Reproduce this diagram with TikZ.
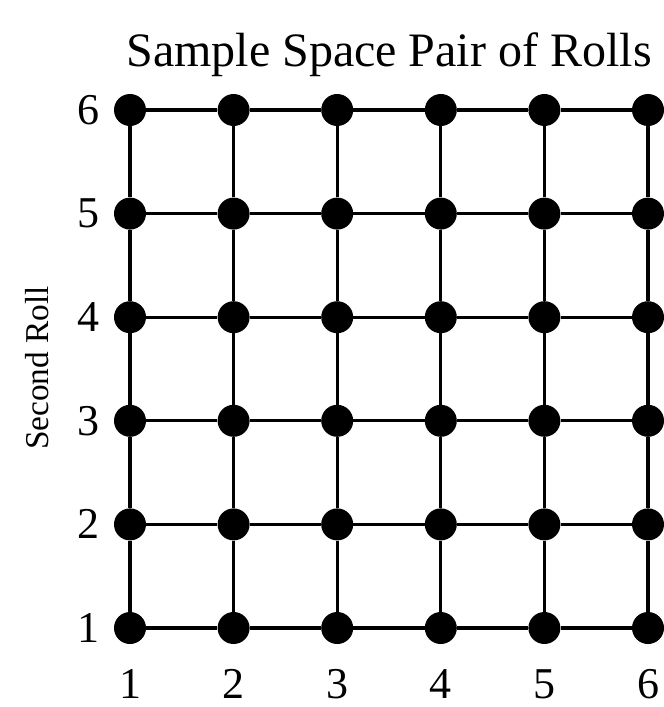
\documentclass[tikz,border=0pt]{standalone}
\usepackage{fontspec}
\setmainfont{Liberation Serif}
\begin{document}
\begin{tikzpicture}[
        x=0.75pt, y=-0.75pt,
        every node/.style={font=\fontsize{33}{38}\selectfont},
        dot/.style={circle, fill=black, inner sep=0pt, minimum size=24pt},
        link/.style={line width=2.5pt, black},
        ticklabel/.style={anchor=center, inner sep=0pt}
        ]
        \useasboundingbox (0,0) rectangle (664,707);

        % Grid of outcomes
        \def\gap{103.6}
        \foreach \i in {1,...,6}{
            \foreach \j in {1,...,6}{
                \node[dot] (p-\i-\j) at ({130+(\i-1)*\gap}, {628-(\j-1)*\gap}) {};
            }
        }

        % Horizontal and vertical links
        \foreach \i [count=\k from 2] in {1,...,5}{
            \foreach \j in {1,...,6}{
                \draw[link] (p-\i-\j) -- (p-\k-\j);
                \draw[link] (p-\j-\i) -- (p-\j-\k);
            }
        }

        % Axis labels
        \foreach \i in {1,...,6}{
            \node[ticklabel] (xl-\i) at ({130+(\i-1)*\gap}, 684) {\i};
            \node[ticklabel] (yl-\i) at (88, {628-(\i-1)*\gap}) {\i};
        }

        % Title and side label
        \node[anchor=base, font=\fontsize{36}{42}\selectfont] (title) at (389, 66) {Sample Space Pair of Rolls};
        \node[rotate=90, font=\fontsize{25}{28}\selectfont] (side) at (37, 368) {Second Roll};

    \end{tikzpicture}
\end{document}
